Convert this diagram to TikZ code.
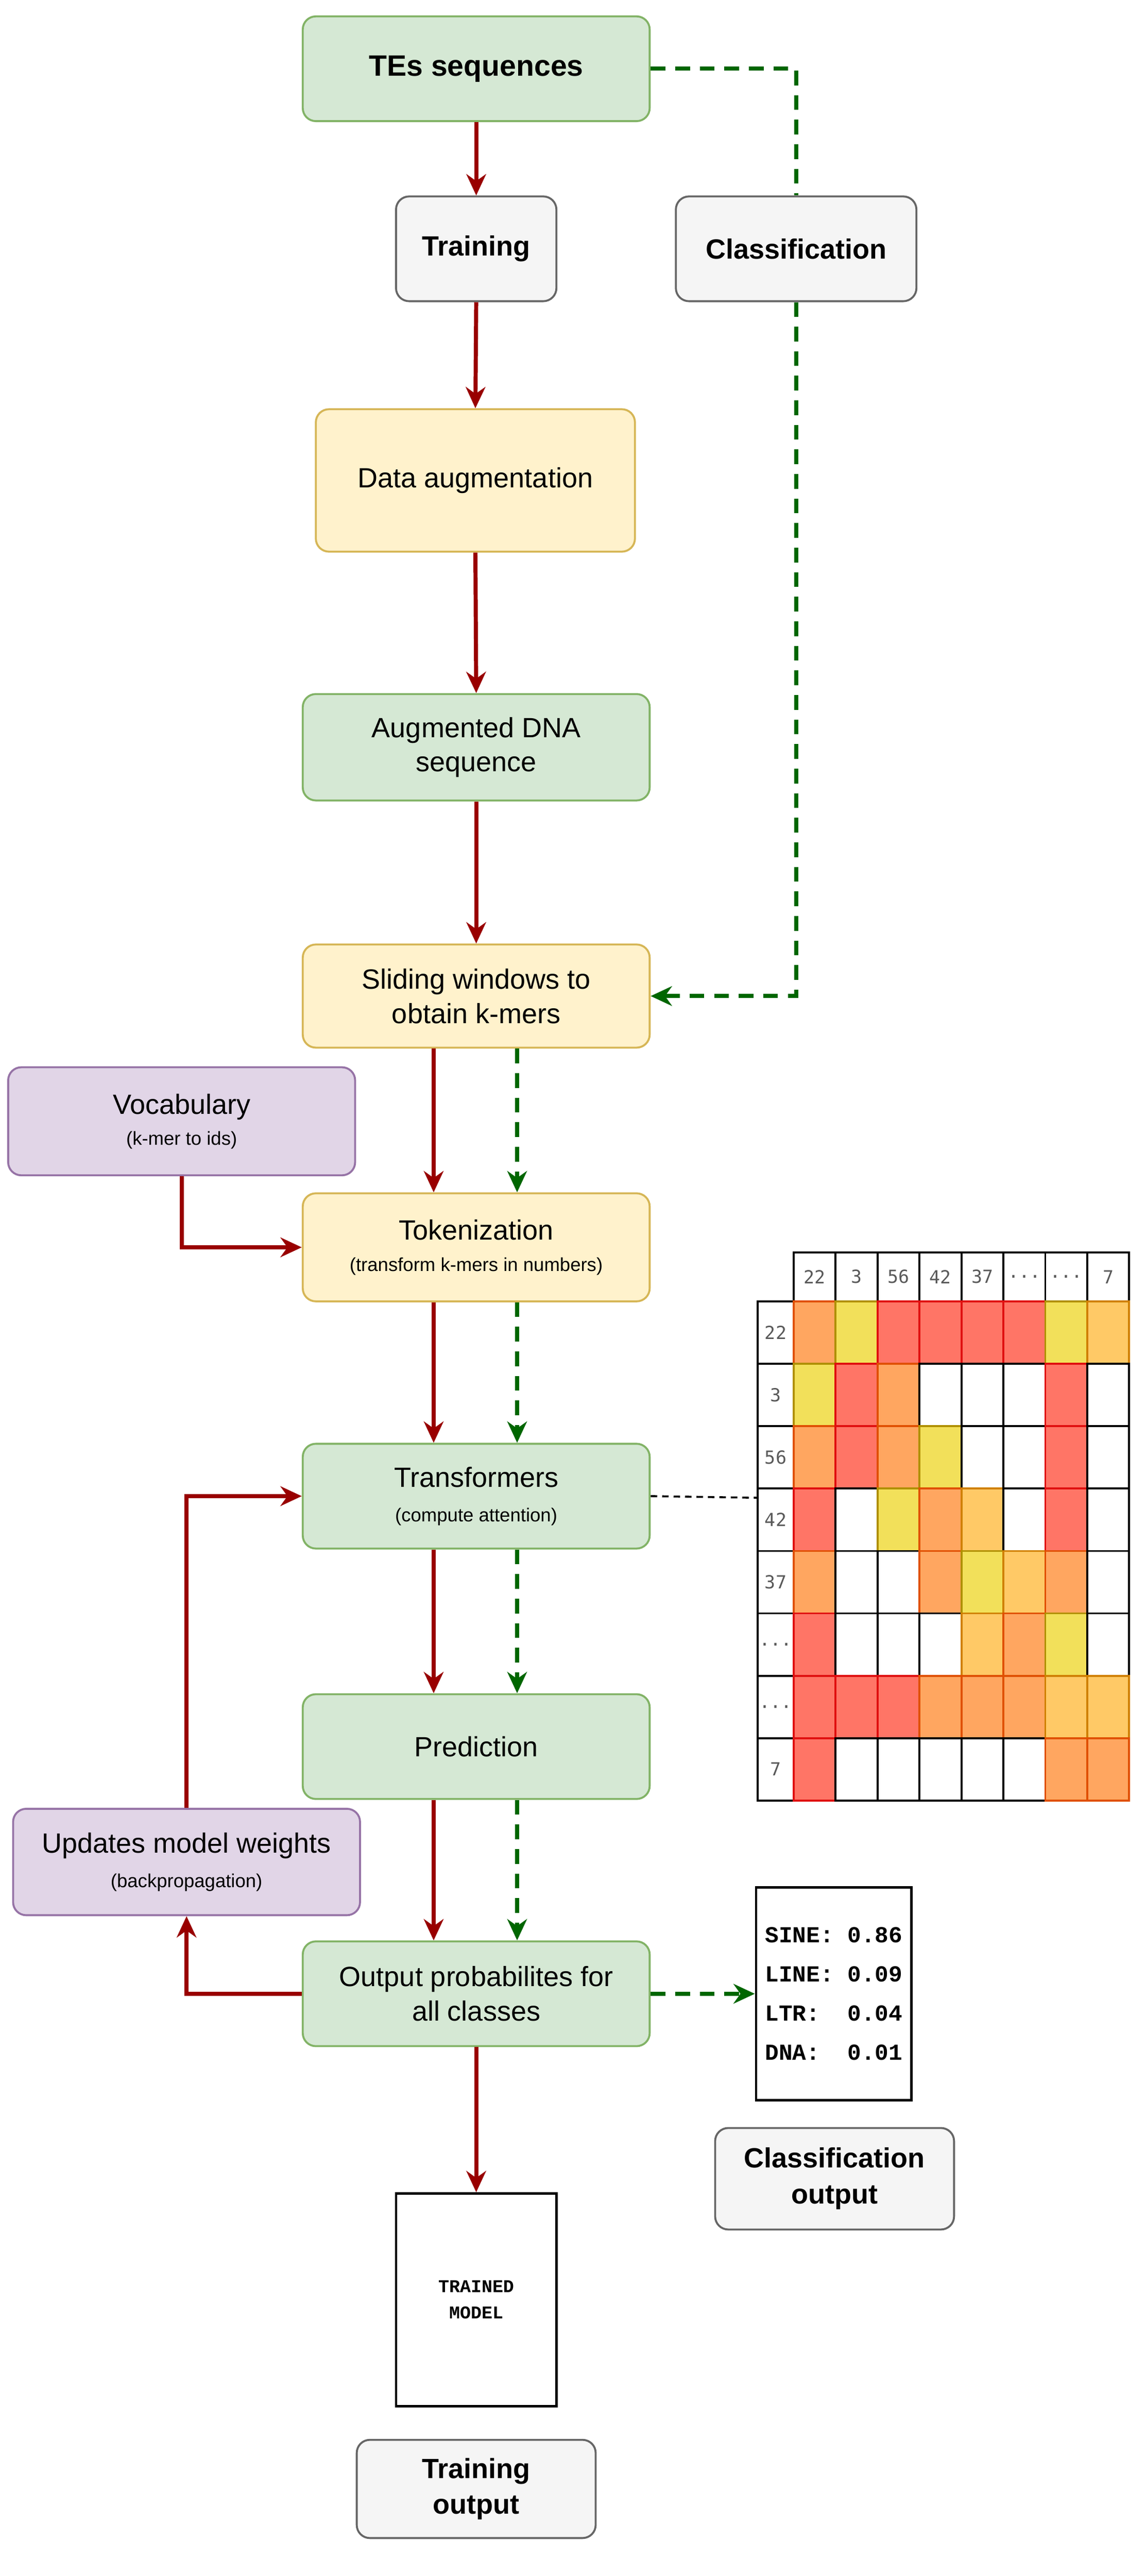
\documentclass[tikz,border=0pt]{standalone}
\usepackage{fontspec}
\setmainfont{Liberation Sans}
\newfontfamily\monob{Liberation Mono}
\newfontfamily\monol{DejaVu Sans Mono}
\usetikzlibrary{arrows.meta}
\newcommand\subt{\fontsize{11.5}{14}\selectfont}
\newcommand\ldd{...}
\definecolor{gF}{HTML}{D5E8D4}\definecolor{gS}{HTML}{82B366}
\definecolor{yF}{HTML}{FFF2CC}\definecolor{yS}{HTML}{D6B656}
\definecolor{pF}{HTML}{E1D5E7}\definecolor{pS}{HTML}{9673A6}
\definecolor{hF}{HTML}{F5F5F5}\definecolor{hS}{HTML}{666666}
\definecolor{rA}{HTML}{990000}\definecolor{gA}{HTML}{006600}
\definecolor{mR}{HTML}{FF7566}\definecolor{sR}{HTML}{E01010}
\definecolor{mO}{HTML}{FFA660}\definecolor{sO}{HTML}{E05000}
\definecolor{mL}{HTML}{FFC966}\definecolor{sL}{HTML}{D08000}
\definecolor{mY}{HTML}{F2E05A}\definecolor{sY}{HTML}{B09000}
\definecolor{mW}{HTML}{FFFFFF}\definecolor{sW}{HTML}{000000}
\tikzset{
 box/.style={rounded corners=8pt,line width=1.2pt,align=center,font=\fontsize{17}{21}\selectfont,inner sep=2pt},
 green/.style={box,fill=gF,draw=gS},
 yell/.style={box,fill=yF,draw=yS},
 purp/.style={box,fill=pF,draw=pS},
 gray/.style={box,fill=hF,draw=hS,font=\fontsize{17}{22}\selectfont\bfseries},
 plain/.style={draw=black,line width=1.5pt,fill=white,align=center},
 red/.style={draw=rA,line width=2.5pt,-{Stealth[length=13pt,width=12pt]}},
 gdash/.style={draw=gA,line width=2.5pt,dash pattern=on 9pt off 6pt,-{Stealth[length=13pt,width=12pt]}},
 gdashl/.style={draw=gA,line width=2.5pt,dash pattern=on 9pt off 6pt},
}
\begin{document}
\begin{tikzpicture}[x=1pt,y=-1pt]
\useasboundingbox[fill=white] (0,0) rectangle (700,1573.7);
\node[green,minimum width=212pt,minimum height=64pt,font=\fontsize{18}{22}\selectfont\bfseries] (tes) at (291,42) {TEs sequences};
\node[gray,minimum width=98pt,minimum height=64pt] (trn) at (291,152) {Training};
\node[gray,minimum width=147pt,minimum height=64pt] (cls) at (486.5,152) {Classification};
\node[yell,minimum width=195pt,minimum height=87pt] (aug) at (290.5,293.5) {Data augmentation};
\node[green,minimum width=212pt,minimum height=65pt] (dna) at (291,456.5) {Augmented DNA\\sequence};
\node[yell,minimum width=212pt,minimum height=63pt] (slide) at (291,608.5) {Sliding windows to\\obtain k-mers};
\node[purp,minimum width=212pt,minimum height=66pt] (voc) at (111,685) {Vocabulary\\[-2pt]{\subt (k-mer to ids)}};
\node[yell,minimum width=212pt,minimum height=66pt] (tok) at (291,762) {Tokenization\\[-2pt]{\subt (transform k-mers in numbers)}};
\node[green,minimum width=212pt,minimum height=64pt] (trans) at (291,914) {Transformers\\[0pt]{\subt (compute attention)}};
\node[green,minimum width=212pt,minimum height=64pt] (pred) at (291,1067) {Prediction};
\node[purp,minimum width=212pt,minimum height=65pt] (upd) at (114,1137.5) {Updates model weights\\[0pt]{\subt (backpropagation)}};
\node[green,minimum width=212pt,minimum height=64pt] (out) at (291,1218) {Output probabilites for\\all classes};
\node[plain,minimum width=98pt,minimum height=130pt,font=\monob\bfseries\fontsize{11}{16}\selectfont] (model) at (291,1405) {TRAINED\\MODEL};
\node[gray,minimum width=146pt,minimum height=60pt] (tout) at (291,1520.5) {Training\\output};
\node[plain,minimum width=95pt,minimum height=130pt,font=\monob\bfseries\fontsize{14}{24}\selectfont,align=left] (cout) at (509.5,1218) {SINE:\ 0.86\\LINE:\ 0.09\\LTR:\ \ 0.04\\DNA:\ \ 0.01};
\node[gray,minimum width=146pt,minimum height=62pt] (cres) at (510,1331) {Classification\\output};
% attention matrix
\coordinate (mat) at (463,915);
\foreach \lab [count=\k] in {22,3,56,42,37,\ldd,\ldd,7}{
  \pgfmathsetmacro\xx{485+(\k-1)*25.625}
  \draw[line width=1.2pt,fill=white] (\xx,765) rectangle ++(25.625,30);
  \node[font=\monol\fontsize{11}{13}\selectfont,text=black!65] at (\xx+12.8,780) {\lab};
  \pgfmathsetmacro\yy{795+(\k-1)*38.125}
  \draw[line width=1.2pt,fill=white] (463,\yy) rectangle ++(22,38.125);
  \node[font=\monol\fontsize{11}{13}\selectfont,text=black!65] at (474,\yy+19) {\lab};
}
\foreach \row [count=\r] in {{O,Y,R,R,R,R,Y,L},{Y,R,O,W,W,W,R,W},{O,R,O,Y,W,W,R,W},{R,W,Y,O,L,W,R,W},{O,W,W,O,Y,L,O,W},{R,W,W,W,L,O,Y,W},{R,R,R,O,O,O,L,L},{R,W,W,W,W,W,O,O}}{
  \foreach \c [count=\k] in \row {
    \pgfmathsetmacro\xx{485+(\k-1)*25.625}
    \pgfmathsetmacro\yy{795+(\r-1)*38.125}
    \draw[fill=m\c,draw=s\c,line width=1.2pt] (\xx,\yy) rectangle ++(25.625,38.125);
  }
}
% red connectors
\draw[red] (tes.south) -- (trn.north);
\draw[red] (trn.south) -- (aug.north);
\draw[red] (aug.south) -- (dna.north);
\draw[red] (dna.south) -- (slide.north);
\draw[red] ([xshift=-26pt]slide.south) -- ([xshift=-26pt]tok.north);
\draw[red] ([xshift=-26pt]tok.south) -- ([xshift=-26pt]trans.north);
\draw[red] ([xshift=-26pt]trans.south) -- ([xshift=-26pt]pred.north);
\draw[red] ([xshift=-26pt]pred.south) -- ([xshift=-26pt]out.north);
\draw[red] (out.south) -- (model.north);
\draw[red] (voc.south) |- (tok.west);
\draw[red] (out.west) -| (upd.south);
\draw[red] (upd.north) |- (trans.west);
% green dashed
\draw[gdashl] (tes.east) -| (cls.north);
\draw[gdash] (cls.south) |- (slide.east);
\draw[gdash] ([xshift=25pt]slide.south) -- ([xshift=25pt]tok.north);
\draw[gdash] ([xshift=25pt]tok.south) -- ([xshift=25pt]trans.north);
\draw[gdash] ([xshift=25pt]trans.south) -- ([xshift=25pt]pred.north);
\draw[gdash] ([xshift=25pt]pred.south) -- ([xshift=25pt]out.north);
\draw[gdash] (out.east) -- (cout.west);
\draw[black,line width=1.2pt,dash pattern=on 4pt off 3pt] (trans.east) -- (mat);
\end{tikzpicture}
\end{document}
